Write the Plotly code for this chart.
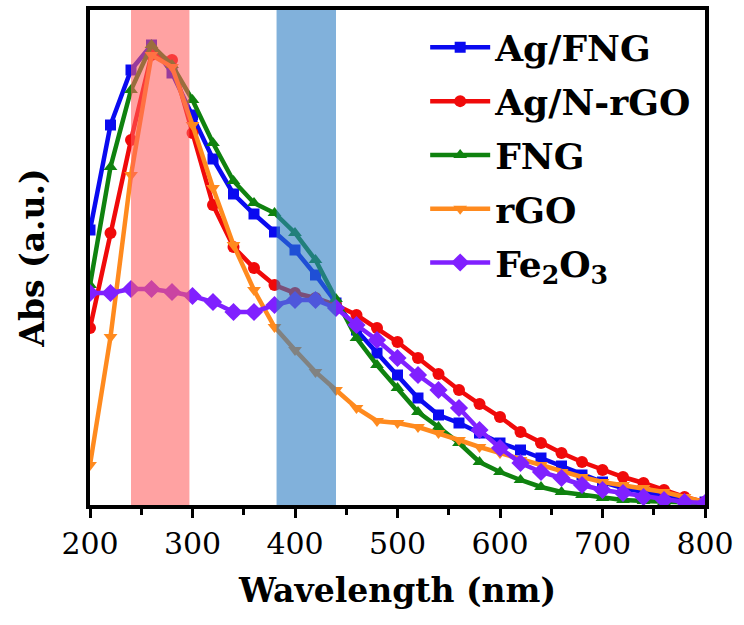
import plotly.graph_objects as go

wavelength = list(range(200, 801, 20))

ag_fng = [273, 378, 433, 458, 430, 388, 344, 309, 289, 271, 253, 228, 200, 173, 150, 128,
          105, 88, 80, 70, 60, 53, 45, 37, 28, 21, 15, 11, 7, 3, 1]
ag_nrgo = [175, 270, 363, 448, 443, 370, 298, 256, 235, 218, 210, 205, 198, 188, 175, 161,
           145, 129, 113, 99, 86, 71, 60, 50, 41, 33, 26, 20, 13, 6, 1]
fng = [218, 336, 413, 458, 438, 403, 360, 322, 300, 290, 270, 243, 204, 165, 138, 115,
       91, 76, 60, 41, 31, 23, 16, 11, 8, 5, 3, 2, 1, 0, 0]
rgo = [38, 166, 328, 448, 436, 378, 315, 258, 213, 176, 153, 131, 113, 95, 82, 80,
       76, 70, 63, 56, 50, 43, 38, 31, 26, 21, 18, 15, 11, 6, 1]
fe2o3 = [210, 210, 214, 214, 211, 207, 201, 191, 191, 198, 203, 203, 195, 178, 163, 145,
         128, 113, 95, 73, 55, 40, 31, 25, 18, 13, 10, 6, 3, 1, 0]

series_names = ["Ag/FNG", "Ag/N-rGO", "FNG", "rGO", "Fe<sub>2</sub>O<sub>3</sub>"]
series_values = [ag_fng, ag_nrgo, fng, rgo, fe2o3]
colors = ["#0A0AF0", "#F00A0A", "#0F820F", "#FF8A1E", "#8020FF"]
symbols = ["square", "circle", "triangle-up", "triangle-down", "diamond"]
msizes = [11, 12, 12, 12, 14]

bands = [(240, 297, "rgba(255,95,95,0.58)"), (382, 440, "rgba(45,125,195,0.6)")]
x_ticks = [200, 300, 400, 500, 600, 700, 800]

fig = go.Figure()
for i, (name, vals, c, s, ms) in enumerate(zip(series_names, series_values, colors, symbols, msizes)):
    fig.add_trace(go.Scatter(x=wavelength, y=vals, name="<b>" + name + "</b>",
                             legendgroup="g%d" % i,
                             mode="lines+markers",
                             line=dict(color=c, width=4.5),
                             marker=dict(symbol=s, size=ms, color=c)))

for x0, x1, col in bands:
    fig.add_shape(type="rect", xref="x", yref="paper", x0=x0, x1=x1, y0=0, y1=1,
                  fillcolor=col, line=dict(width=0), layer="above")

serif = "DejaVu Serif"
fig.update_layout(
    template="none",
    width=744, height=625,
    margin=dict(l=90, r=39, t=10, b=120),
    plot_bgcolor="white", paper_bgcolor="white",
    showlegend=True,
    legend=dict(x=0.545, y=0.985, xanchor="left", yanchor="top",
                font=dict(family=serif, size=36, color="black"),
                bgcolor="rgba(0,0,0,0)", itemwidth=60, tracegroupgap=4),
    font=dict(family=serif, color="black"),
)
fig.update_xaxes(range=[200, 800], tickvals=x_ticks, ticks="outside", ticklen=9, tickwidth=3,
                 tickcolor="black", showline=True, linecolor="black", linewidth=4, mirror=True,
                 showgrid=False, zeroline=False,
                 tickfont=dict(family=serif, size=30, color="black"),
                 minor=dict(tickvals=[250, 350, 450, 550, 650, 750], ticks="outside",
                            ticklen=6, tickwidth=3, tickcolor="black"),
                 title=dict(text="<b>Wavelength (nm)</b>", standoff=20,
                            font=dict(family=serif, size=33, color="black")))
fig.update_yaxes(range=[-2, 493], showticklabels=False, ticks="", showline=True,
                 linecolor="black", linewidth=4, mirror=True, showgrid=False, zeroline=False,
                 title=dict(text="<b>Abs (a.u.)</b>", standoff=32,
                            font=dict(family=serif, size=33, color="black")))

fig.write_html("out.html")
